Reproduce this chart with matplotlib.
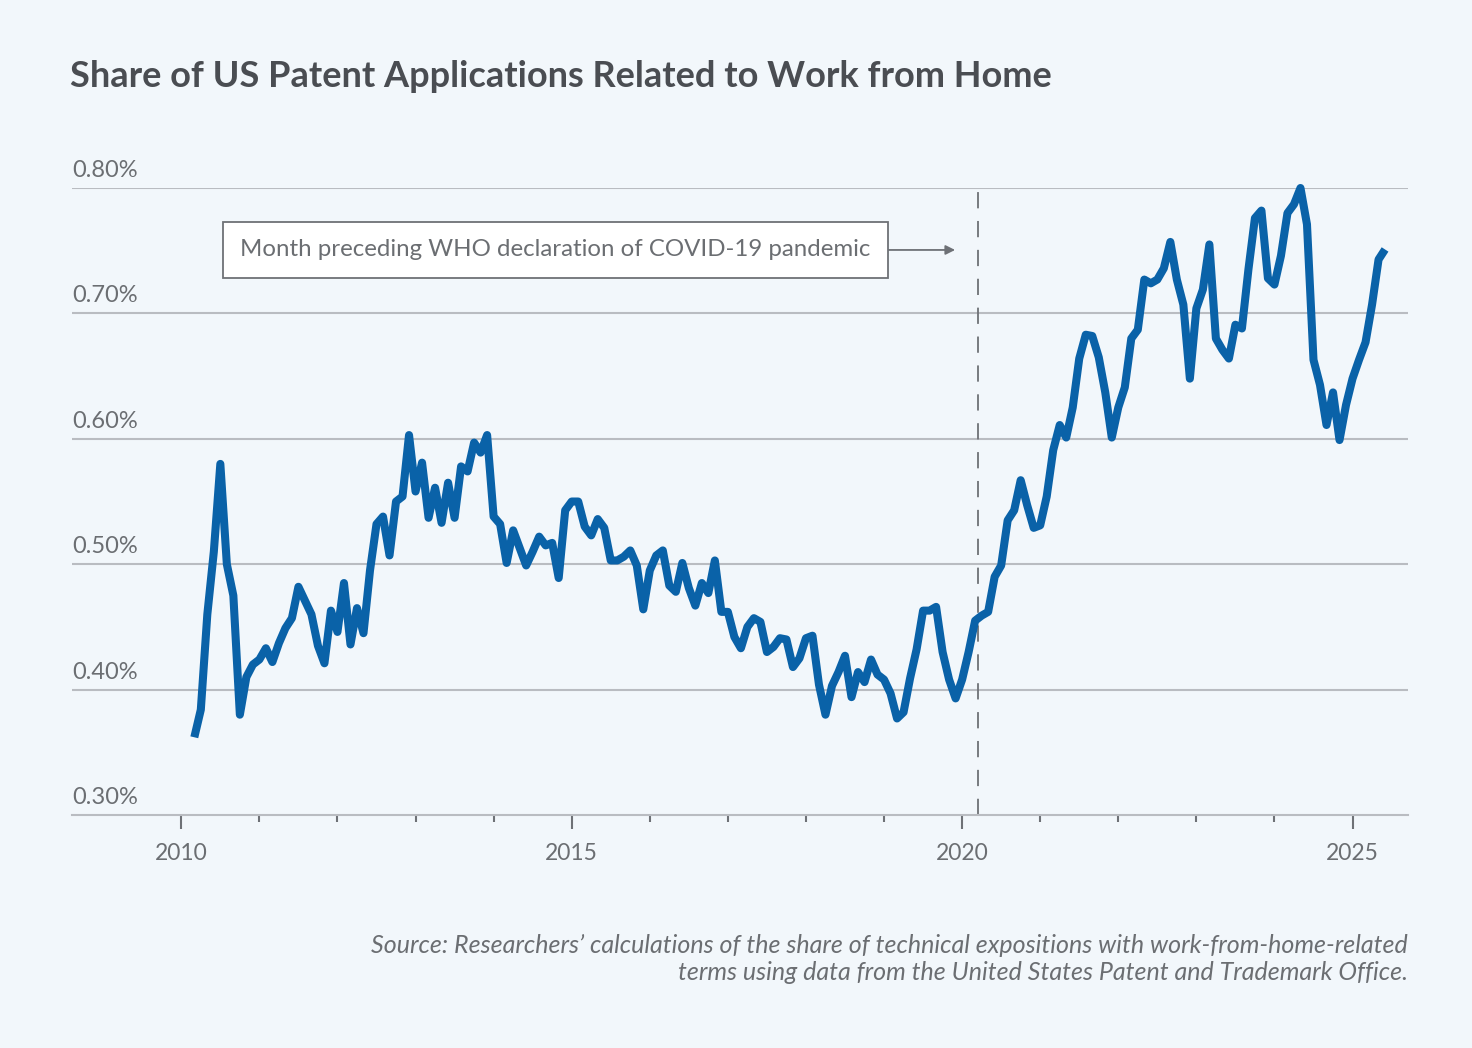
import matplotlib
matplotlib.use("Agg")
import matplotlib.pyplot as plt
from matplotlib.ticker import FixedLocator

# monthly share (%) starting March 2010
start_year = 2010 + 2 / 12
share = [
    0.362, 0.384, 0.46, 0.51, 0.58, 0.50, 0.475, 0.38, 0.41, 0.42, 0.424, 0.433,
    0.422, 0.437, 0.449, 0.457, 0.482, 0.471, 0.46, 0.435, 0.421, 0.463, 0.446, 0.485,
    0.436, 0.465, 0.445, 0.495, 0.532, 0.538, 0.507, 0.55, 0.554, 0.603, 0.558, 0.581,
    0.537, 0.561, 0.533, 0.565, 0.537, 0.578, 0.574, 0.597, 0.589, 0.603, 0.538, 0.532,
    0.501, 0.527, 0.513, 0.499, 0.51, 0.522, 0.515, 0.517, 0.489, 0.543, 0.55, 0.55,
    0.53, 0.523, 0.536, 0.529, 0.503, 0.503, 0.506, 0.511, 0.499, 0.464, 0.495, 0.507,
    0.511, 0.483, 0.478, 0.501, 0.481, 0.467, 0.485, 0.477, 0.503, 0.462, 0.462, 0.442,
    0.433, 0.45, 0.457, 0.454, 0.43, 0.434, 0.441, 0.44, 0.418, 0.425, 0.441, 0.443,
    0.404, 0.38, 0.403, 0.414, 0.427, 0.394, 0.414, 0.406, 0.424, 0.412, 0.408, 0.397,
    0.377, 0.382, 0.409, 0.432, 0.463, 0.463, 0.466, 0.43, 0.408, 0.393, 0.408, 0.43,
    0.455, 0.459, 0.462, 0.49, 0.499, 0.535, 0.543, 0.567, 0.547, 0.529, 0.531, 0.554,
    0.591, 0.611, 0.601, 0.625, 0.664, 0.683, 0.682, 0.665, 0.637, 0.601, 0.625, 0.641,
    0.68, 0.687, 0.727, 0.724, 0.727, 0.736, 0.757, 0.727, 0.707, 0.648, 0.704, 0.719,
    0.755, 0.68, 0.671, 0.664, 0.691, 0.688, 0.735, 0.776, 0.782, 0.728, 0.723, 0.746,
    0.78, 0.787, 0.80, 0.771, 0.663, 0.643, 0.611, 0.637, 0.599, 0.627, 0.648, 0.663,
    0.677, 0.707, 0.743, 0.751,
]
years = [start_year + i / 12 for i in range(len(share))]

y_ticks = [0.30, 0.40, 0.50, 0.60, 0.70, 0.80]
x_ticks = [2010, 2015, 2020, 2025]
x_minor = list(range(2011, 2025))
covid_marker = 2020.2

bg = '#f2f7fb'
blue = '#0a62a8'
grey_text = '#6b6e72'
grid_col = '#b9bcc1'

plt.rcParams['font.family'] = ['Lato', 'DejaVu Sans']

fig = plt.figure(figsize=(14.72, 10.48), dpi=100, facecolor=bg)
ax = fig.add_axes([0.0489, 0.2223, 0.9076, 0.5983])
ax.set_facecolor(bg)

ax.set_xlim(2008.6, 2025.71)
ax.set_ylim(0.30, 0.80)

# gridlines and y labels sitting above them
for v in y_ticks[1:]:
    ax.axhline(v, color=grid_col, lw=1.5, zorder=1)
for v in y_ticks:
    ax.annotate(f'{v:.2f}%', xy=(0, v), xycoords=('axes fraction', 'data'),
                xytext=(0, 5), textcoords='offset points',
                ha='left', va='bottom', fontsize=17, color=grey_text)

ax.plot(years, share, color=blue, lw=5.8, solid_joinstyle='round',
        solid_capstyle='butt', clip_on=False, zorder=3)

ax.axvline(covid_marker, color='#6e7176', lw=1.3, dashes=(9, 7), zorder=2)

ax.annotate('Month preceding WHO declaration of COVID-19 pandemic',
            xy=(2019.91, 0.7506), xytext=(2014.79, 0.7506),
            ha='center', va='center', fontsize=17.3, color=grey_text,
            bbox=dict(boxstyle='square,pad=0.72', fc='white', ec='#6e7176', lw=1.3),
            arrowprops=dict(arrowstyle='-|>', color='#6e7176', lw=1.3,
                            mutation_scale=14, shrinkA=0, shrinkB=0))

for s in ['top', 'right', 'left']:
    ax.spines[s].set_visible(False)
ax.spines['bottom'].set_color(grid_col)
ax.spines['bottom'].set_linewidth(1.5)

ax.set_yticks([])
ax.set_xticks(x_ticks)
ax.xaxis.set_minor_locator(FixedLocator(x_minor))
ax.tick_params(axis='x', which='major', length=10, width=1.5, color='#6e7176',
               labelsize=16.5, labelcolor=grey_text, pad=10)
ax.tick_params(axis='x', which='minor', length=5, width=1.5, color='#6e7176')

fig.text(0.0475, 0.927, 'Share of US Patent Applications Related to Work from Home',
         fontsize=26, fontweight='bold', color='#4a4d52', ha='left', va='center')

fig.text(0.9565, 0.085,
         'Source: Researchers\u2019 calculations of the share of technical expositions with work-from-home-related\n'
         'terms using data from the United States Patent and Trademark Office.',
         fontsize=18, style='italic', color=grey_text, ha='right', va='center',
         linespacing=1.25)

fig.savefig('out.png', dpi=100, facecolor=bg)
